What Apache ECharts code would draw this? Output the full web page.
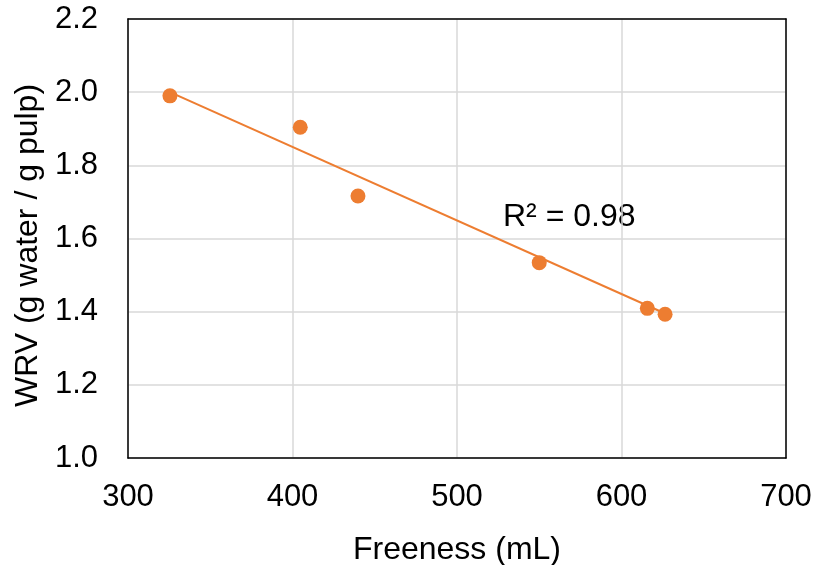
<!DOCTYPE html>
<html>
<head>
<meta charset="utf-8">
<script src="https://cdn.jsdelivr.net/npm/echarts@6/dist/echarts.min.js"></script>
<style>html,body{margin:0;padding:0;background:#fff;}#c{width:814px;height:565px;}</style>
</head>
<body>
<div id="c"></div>
<script>
// Data
var freeness = [325.5, 404.7, 439.8, 550.0, 615.7, 626.5];
var wrv      = [1.990, 1.904, 1.716, 1.534, 1.409, 1.393];
// Trendline endpoints (as drawn in the reference)
var trendX = [325.5, 626.5];
var trendY = [2.000, 1.395];
var rSquaredText = 'R² = 0.98';
var xTicks = [300, 400, 500, 600, 700];
var yTicks = [1.0, 1.2, 1.4, 1.6, 1.8, 2.0, 2.2];

var FONT = '"Liberation Sans", Arial, sans-serif';
var ORANGE = '#ED7D31';

var points = freeness.map(function (x, i) { return [x, wrv[i]]; });
var trend = trendX.map(function (x, i) { return [x, trendY[i]]; });

var frameAxis = {
  axisLine: {show: true, lineStyle: {color: '#000', width: 1.5}},
  axisTick: {show: false}, axisLabel: {show: false}, splitLine: {show: false}
};

var chart = echarts.init(document.getElementById('c'), null, {renderer: 'canvas'});
chart.setOption({
  backgroundColor: '#fff',
  animation: false,
  textStyle: {fontFamily: FONT},
  grid: {left: 128, right: 28, top: 19, bottom: 107, containLabel: false, outerBoundsMode: 'none'},
  xAxis: [{
    type: 'value', min: xTicks[0], max: xTicks[xTicks.length - 1], interval: 100,
    name: 'Freeness (mL)', nameLocation: 'middle', nameGap: 76,
    nameTextStyle: {fontSize: 32, color: '#000', fontFamily: FONT},
    axisLine: {show: true, onZero: false, lineStyle: {color: '#000', width: 1.5}},
    axisTick: {show: false},
    axisLabel: {fontSize: 31, color: '#000', margin: 24, fontFamily: FONT},
    splitLine: {show: true, lineStyle: {color: '#D9D9D9', width: 1.5}}
  }, Object.assign({
    type: 'value', position: 'top', min: xTicks[0], max: xTicks[xTicks.length - 1], interval: 100
  }, frameAxis)],
  yAxis: [{
    type: 'value', min: yTicks[0], max: yTicks[yTicks.length - 1], interval: 0.2,
    name: 'WRV (g water / g pulp)', nameLocation: 'middle', nameGap: 50,
    nameTextStyle: {fontSize: 32, color: '#000', fontFamily: FONT, padding: [0, 14, 0, 0]},
    axisLine: {show: true, onZero: false, lineStyle: {color: '#000', width: 1.5}},
    axisTick: {show: false},
    axisLabel: {fontSize: 31, color: '#000', margin: 30, fontFamily: FONT,
      formatter: function (v) { return v.toFixed(1); }},
    splitLine: {show: true, lineStyle: {color: '#D9D9D9', width: 1.5}}
  }, Object.assign({
    type: 'value', position: 'right', min: yTicks[0], max: yTicks[yTicks.length - 1], interval: 0.2
  }, frameAxis)],
  series: [
    {
      type: 'line', data: trend, showSymbol: false, symbol: 'none',
      lineStyle: {color: ORANGE, width: 2}, z: 2, silent: true
    },
    {
      type: 'scatter', data: points, symbol: 'circle', symbolSize: 15,
      itemStyle: {color: ORANGE, opacity: 1}, z: 3
    }
  ],
  graphic: [{
    type: 'text', left: 503, top: 201,
    style: {text: rSquaredText, fontSize: 32, fill: '#000', fontFamily: FONT}
  }]
});
</script>
</body>
</html>
